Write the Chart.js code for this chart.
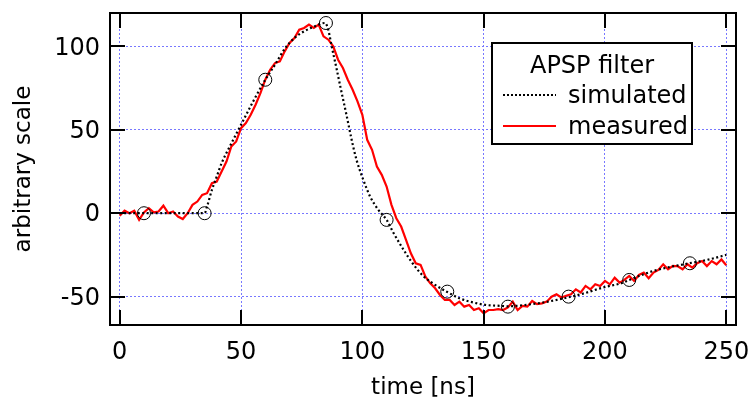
<!DOCTYPE html>
<html>
<head>
<meta charset="utf-8">
<script src="https://cdn.jsdelivr.net/npm/chart.js@4/dist/chart.umd.min.js"></script>
<style>
  html, body { margin: 0; padding: 0; background: #fff; }
  #wrap { width: 752px; height: 398px; }
</style>
</head>
<body>
<div id="wrap"><canvas id="apsp-chart" width="752" height="398"></canvas></div>
<script>
const X_TICKS = [0, 50, 100, 150, 200, 250];
const Y_TICKS = [-50, 0, 50, 100];

const MEAS_T = [
  0, 2, 4, 6, 8, 10, 12, 14, 16, 18, 20, 22, 24, 26, 28, 30, 32, 34, 36, 38,
  40, 42, 44, 46, 48, 50, 52, 54, 56, 58, 60, 62, 64, 66, 68, 70, 72, 74, 76, 78,
  80, 82, 84, 86, 88, 90, 92, 94, 96, 98, 100, 102, 104, 106, 108, 110, 112, 114, 116, 118,
  120, 122, 124, 126, 128, 130, 132, 134, 136, 138, 140, 142, 144, 146, 148, 150, 152, 154, 156, 158,
  160, 162, 164, 166, 168, 170, 172, 174, 176, 178, 180, 182, 184, 186, 188, 190, 192, 194, 196, 198,
  200, 202, 204, 206, 208, 210, 212, 214, 216, 218, 220, 222, 224, 226, 228, 230, 232, 234, 236, 238,
  240, 242, 244, 246, 248, 250,
];
const MEAS_V = [
  -1.5, 1.5, 0, 1.5, -4, 0.5, 3, 0.5, 1, 4.5, 0, 1, -2, -3.5, 0, 5, 7, 11, 12, 18,
  19, 25, 31, 40, 43, 51, 54, 59, 65, 72, 80, 86, 90, 91, 97, 102, 105, 110, 111, 113,
  111, 113, 106, 104, 100, 92, 87, 80, 74, 67, 59, 44, 38, 28, 23, 16, 5, -3, -8, -16,
  -24, -30, -31, -38, -42, -45, -49, -52, -52, -55, -53, -56, -55, -58, -57, -60, -58, -58, -57.5, -58,
  -56.5, -53, -58, -55.5, -56, -52.6, -54.5, -54, -53, -50, -48.6, -50.5, -49.5, -48.6, -45.6, -47.5, -43.6, -45.6, -42.6, -43.6,
  -40.6, -42.6, -38.6, -41.6, -40, -37.6, -40.6, -37, -35.6, -39, -35.6, -34, -30.6, -33.6, -31.6, -31.8, -33.6, -30.6, -32.6, -30,
  -28.7, -31.7, -28.7, -30.6, -27.7, -31.2,
];

// simulated response
const SIM_T = [
  0, 35, 36, 38, 40, 42, 45, 50, 55, 60, 64, 68, 72, 76, 80, 84.6, 86, 87.4, 89.5, 91.5,
  93.6, 95.6, 97.6, 100.4, 103.2, 106.6, 110, 112.8, 116.9, 121, 125, 129, 135, 140, 145.7, 151,
  156.7, 160, 165, 174.5, 182.8, 190, 199.3, 207.5, 210, 220, 234.7, 242, 250,
];
const SIM_V = [
  0, 0, 4, 14, 22, 30, 39, 53, 67, 80, 89, 98.5, 105, 109, 111.8, 114, 109.7, 99.8, 85.8, 72,
  58, 44, 32, 20, 10, 2, -4, -11.7, -21.7, -30.6, -37.5, -42, -47.2, -51, -53.5, -55,
  -55.5, -55.8, -55.3, -53.5, -51.1, -48.6, -44.5, -41.6, -40, -34.6, -30, -28, -25,
];

// circle markers on the simulated curve
const MARK_T = [10, 35, 60, 85, 110, 135, 160, 185, 210, 235];
const MARK_V = [0, 0, 80, 114, -4, -47, -56, -50, -40, -30];

const LEGEND_TITLE = "APSP filter";
const LEGEND_LABELS = ["simulated", "measured"];

const FONT = "'DejaVu Sans', sans-serif";
const RED = "#ff0000";
const GRID_BLUE = "#7878ff";

const toXY = (xs, ys) => xs.map((x, i) => ({ x, y: ys[i] }));

const noLabelPadding = (scale) => {
  scale.paddingLeft = 0;
  scale.paddingRight = 0;
  scale.paddingTop = 0;
  scale.paddingBottom = 0;
};

const frameAndLegend = {
  id: "frameAndLegend",
  afterDatasetsDraw(chart) {
    const { ctx, chartArea: a, scales } = chart;
    const tick = 15;
    ctx.save();
    ctx.strokeStyle = "#000";
    ctx.lineWidth = 2;
    ctx.beginPath();
    X_TICKS.forEach((v) => {
      const px = Math.round(scales.x.getPixelForValue(v));
      ctx.moveTo(px, a.bottom);
      ctx.lineTo(px, a.bottom - tick);
      ctx.moveTo(px, a.top);
      ctx.lineTo(px, a.top + tick);
    });
    Y_TICKS.forEach((v) => {
      const py = Math.round(scales.y.getPixelForValue(v));
      ctx.moveTo(a.left, py);
      ctx.lineTo(a.left + tick, py);
      ctx.moveTo(a.right, py);
      ctx.lineTo(a.right - tick, py);
    });
    ctx.stroke();
    ctx.strokeRect(a.left, a.top, a.right - a.left, a.bottom - a.top);

    // legend box
    const bx = a.right - 244;
    const by = a.top + 30;
    const bw = 200;
    const bh = 101;
    ctx.fillStyle = "#fff";
    ctx.fillRect(bx, by, bw, bh);
    ctx.strokeRect(bx, by, bw, bh);

    ctx.fillStyle = "#000";
    ctx.font = `24px ${FONT}`;
    ctx.textBaseline = "middle";
    ctx.textAlign = "center";
    ctx.fillText(LEGEND_TITLE, bx + bw / 2, by + 24);
    ctx.textAlign = "left";
    const rows = [by + 52, by + 83];
    LEGEND_LABELS.forEach((label, i) => {
      ctx.fillText(label, bx + 76, rows[i] + 2);
    });

    ctx.beginPath();
    ctx.lineWidth = 2;
    ctx.setLineDash([2, 2]);
    ctx.strokeStyle = "#000";
    ctx.moveTo(bx + 11, rows[0]);
    ctx.lineTo(bx + 64, rows[0]);
    ctx.stroke();

    ctx.beginPath();
    ctx.setLineDash([]);
    ctx.strokeStyle = RED;
    ctx.moveTo(bx + 11, rows[1]);
    ctx.lineTo(bx + 64, rows[1]);
    ctx.stroke();
    ctx.restore();
  },
};

new Chart(document.getElementById("apsp-chart"), {
  type: "line",
  data: {
    datasets: [
      {
        label: "measured",
        data: toXY(MEAS_T, MEAS_V),
        borderColor: RED,
        borderWidth: 2.2,
        pointRadius: 0,
        tension: 0,
        order: 3,
      },
      {
        label: "simulated",
        data: toXY(SIM_T, SIM_V),
        borderColor: "#000",
        borderWidth: 2.2,
        borderDash: [2, 2.5],
        pointRadius: 0,
        cubicInterpolationMode: "monotone",
        order: 2,
      },
      {
        label: "markers",
        data: toXY(MARK_T, MARK_V),
        showLine: false,
        pointRadius: 6.5,
        pointBorderWidth: 1,
        pointBorderColor: "#000",
        pointBackgroundColor: "rgba(0,0,0,0)",
        order: 1,
      },
    ],
  },
  options: {
    responsive: false,
    animation: false,
    devicePixelRatio: 1,
    layout: { padding: { top: 13, right: 16, left: 0, bottom: 0 } },
    plugins: {
      legend: { display: false },
      tooltip: { enabled: false },
    },
    scales: {
      x: {
        type: "linear",
        min: -4,
        max: 254,
        afterBuildTicks: (scale) => { scale.ticks = X_TICKS.map((value) => ({ value })); },
        afterFit: (scale) => { scale.height = 73; noLabelPadding(scale); },
        grid: { color: GRID_BLUE, lineWidth: 1, drawTicks: false },
        border: { display: false, dash: [2, 2] },
        ticks: { color: "#000", font: { family: FONT, size: 24 }, padding: 13, maxRotation: 0 },
        title: {
          display: true,
          text: "time [ns]",
          color: "#000",
          font: { family: FONT, size: 23 },
          padding: { top: 0, bottom: -4 },
        },
      },
      y: {
        min: -67,
        max: 120,
        afterBuildTicks: (scale) => { scale.ticks = Y_TICKS.map((value) => ({ value })); },
        afterFit: (scale) => { scale.width = 110; noLabelPadding(scale); },
        grid: { color: GRID_BLUE, lineWidth: 1, drawTicks: false },
        border: { display: false, dash: [2, 2] },
        ticks: { color: "#000", font: { family: FONT, size: 24 }, padding: 10, labelOffset: 2 },
        title: {
          display: true,
          text: "arbitrary scale",
          color: "#000",
          font: { family: FONT, size: 23 },
          padding: { top: 10, bottom: 0 },
        },
      },
    },
  },
  plugins: [frameAndLegend],
});
</script>
</body>
</html>
